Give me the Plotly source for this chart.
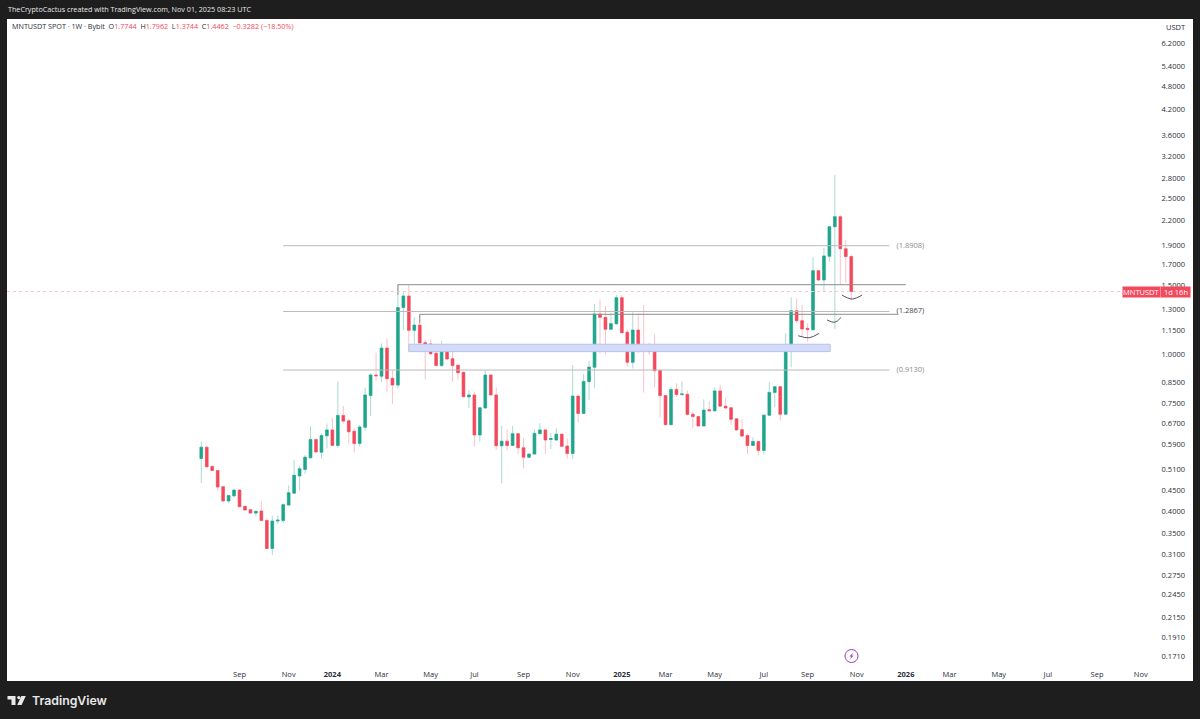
import pandas as pd
import plotly.graph_objects as go

# weekly MNTUSDT candles
weeks = pd.date_range("2023-07-17", periods=120, freq="7D")

opens = [.544,.581,.519,.507,.461,.424,.437,.452,.411,.403,.395,.400,.378,.321,.377,.378,.414,.444,.491,.510,
         .546,.608,.564,.621,.643,.587,.700,.678,.638,.594,.653,.786,.887,.881,1.039,.870,.836,1.316,1.409,1.152,
         1.188,1.072,1.064,1.007,.937,1.021,.976,.939,.901,.780,.789,.624,.731,.887,.789,.586,.602,.587,.629,.579,
         .548,.558,.629,.643,.608,.606,.627,.585,.560,.784,.708,.853,.928,1.268,1.243,1.159,1.198,1.395,1.139,.955,
         1.154,1.053,1.027,1.019,.911,.786,.663,.815,.791,.792,.705,.695,.658,.724,.719,.808,.739,.732,.686,.644,
         .622,.587,.601,.570,.701,.801,.828,.705,1.025,1.293,1.219,1.166,1.156,1.634,1.547,1.778,2.114,2.241,1.858,1.7744]
highs = [.600,.585,.524,.507,.461,.439,.456,.454,.411,.403,.400,.424,.383,.389,.390,.418,.465,.539,.520,.555,
         .658,.608,.630,.668,.690,.853,.740,.686,.649,.662,.824,.896,1.011,1.068,1.099,.913,1.508,1.445,1.503,1.243,
         1.260,1.089,1.093,1.017,1.082,1.051,1.057,.943,.903,.812,.805,.734,.913,.892,.825,.659,.645,.658,.630,.612,
         .560,.645,.669,.645,.632,.649,.630,.612,.940,.784,.892,.964,1.344,1.381,1.328,1.273,1.417,1.417,1.159,1.280,
         1.273,1.336,1.072,1.126,.913,.789,.828,.845,.853,.809,.715,.699,.769,.760,.825,.837,.773,.737,.688,.684,
         .630,.616,.604,.704,.850,.831,.828,1.132,1.398,1.390,1.336,1.200,1.770,1.640,1.866,2.122,2.866,2.260,1.955,1.7962]
lows = [.471,.518,.506,.450,.424,.418,.433,.410,.402,.394,.388,.378,.321,.309,.371,.373,.412,.443,.450,.497,
        .546,.564,.543,.577,.585,.579,.668,.594,.563,.583,.640,.697,.858,.852,.801,.748,.820,1.154,1.017,1.064,
        1.064,.864,.997,.935,.931,.968,.853,.861,.780,.731,.583,.600,.729,.787,.572,.470,.572,.585,.559,.513,
        .546,.556,.627,.559,.575,.604,.583,.544,.542,.671,.706,.766,.820,1.007,1.001,1.154,1.188,1.132,.931,.922,
        1.007,.800,.997,.825,.692,.660,.660,.781,.784,.701,.649,.655,.655,.718,.716,.737,.729,.662,.640,.618,
        .558,.585,.554,.556,.698,.734,.678,.703,.928,1.200,1.114,1.078,1.148,1.538,1.445,1.722,1.159,1.502,1.523,1.3744]
closes = [.581,.518,.507,.460,.424,.438,.452,.410,.402,.395,.399,.378,.321,.377,.379,.415,.445,.493,.512,.548,
          .608,.565,.622,.643,.587,.700,.677,.636,.594,.654,.789,.887,.883,1.039,.868,.836,1.316,1.409,1.152,1.188,
          1.070,1.064,1.005,.937,1.021,.974,.937,.899,.781,.789,.624,.732,.887,.789,.586,.602,.587,.629,.579,.548,
          .558,.630,.643,.606,.611,.627,.584,.560,.784,.708,.854,.929,1.268,1.243,1.159,1.198,1.395,1.136,.955,1.154,
          1.051,1.025,1.017,.909,.786,.663,.815,.791,.794,.704,.695,.658,.722,.719,.808,.739,.731,.684,.643,.620,
          .587,.601,.570,.701,.801,.828,.705,1.027,1.293,1.219,1.161,1.157,1.634,1.547,1.781,2.114,2.241,1.858,1.7744,1.4462]

price_ticks = [6.2,5.4,4.8,4.2,3.6,3.2,2.8,2.5,2.2,1.9,1.7,1.5,1.3,1.15,1.0,.85,.75,.67,.59,.51,.45,.40,.35,.31,.275,.245,.215,.191,.171]

date_ticks = ["2023-09-04","2023-11-06","2024-01-01","2024-03-04","2024-05-06","2024-07-01","2024-09-02","2024-11-04",
              "2025-01-06","2025-03-03","2025-05-05","2025-07-07","2025-09-01","2025-11-03","2026-01-05","2026-03-02",
              "2026-05-04","2026-07-06","2026-09-07","2026-11-02"]
date_labels = ["Sep","Nov","<b>2024</b>","Mar","May","Jul","Sep","Nov","<b>2025</b>","Mar","May","Jul","Sep","Nov",
               "<b>2026</b>","Mar","May","Jul","Sep","Nov"]

# drawings on the chart
fib_levels = [1.8908, 1.2867, 0.9130]
fib_start, fib_end = "2023-10-30", "2025-12-15"
top_level = 1.505
mid_level = 1.2655
zone_low, zone_high = 1.017, 1.062
zone_start, zone_end = "2024-04-08", "2025-09-30"
arc_dates = [["2025-08-20","2025-09-03","2025-09-16"],
             ["2025-09-26","2025-10-06","2025-10-14"],
             ["2025-10-15","2025-10-28","2025-11-10"]]
arc_prices = [[1.116,1.103,1.132],[1.224,1.208,1.243],[1.417,1.384,1.417]]

green = "#1fa58c"
red = "#f2495c"
pale_green = "#a9dcd2"
pale_red = "#f9c3ca"
ink = "#2a2e39"


def px(x):
    return (x - 7) / 1186


def py(y):
    return (681 - y) / 662


fig = go.Figure()

# zone box
fig.add_trace(go.Scatter(x=[zone_start, zone_end, zone_end, zone_start, zone_start],
                         y=[zone_low, zone_low, zone_high, zone_high, zone_low],
                         mode="lines", fill="toself", fillcolor="#d3dbfb",
                         line=dict(color="#b9c2ea", width=1)))

for lv in fib_levels:
    fig.add_trace(go.Scatter(x=[fib_start, fib_end], y=[lv, lv], mode="lines",
                             line=dict(color="#b9b9b9", width=1)))
    fig.add_trace(go.Scatter(x=["2025-12-24"], y=[lv], mode="text", text=["(%.4f)" % lv],
                             textposition="middle right",
                             textfont=dict(family="Open Sans", size=7.5,
                                           color="#444444" if lv == 1.2867 else "#8a8a8a")))

fig.add_trace(go.Scatter(x=["2024-03-25", "2024-03-25", "2026-01-05"], y=[1.42, top_level, top_level],
                         mode="lines", line=dict(color="#8c8c8c", width=1)))
fig.add_trace(go.Scatter(x=["2024-04-22", "2024-04-22", "2025-12-26"], y=[1.2, mid_level, mid_level],
                         mode="lines", line=dict(color="#8c8c8c", width=1)))

# last price line
fig.add_trace(go.Scatter(x=["2022-11-10", "2026-10-09"], y=[closes[-1], closes[-1]], mode="lines",
                         line=dict(color="#f6c9ce", width=1, dash="dot")))

# wicks, then the bodies on top
fig.add_trace(go.Candlestick(x=weeks, open=opens, high=highs, low=lows, close=closes,
                             increasing=dict(line=dict(color=pale_green, width=1), fillcolor=green),
                             decreasing=dict(line=dict(color=pale_red, width=1), fillcolor=red)))
body_top = [max(o, c) for o, c in zip(opens, closes)]
body_bot = [min(o, c) for o, c in zip(opens, closes)]
fig.add_trace(go.Candlestick(x=weeks, open=opens, high=body_top, low=body_bot, close=closes,
                             increasing=dict(line=dict(color=green, width=0.5), fillcolor=green),
                             decreasing=dict(line=dict(color=red, width=0.5), fillcolor=red)))

for d, p in zip(arc_dates, arc_prices):
    fig.add_trace(go.Scatter(x=d, y=p, mode="lines",
                             line=dict(color="#555555", width=1, shape="spline")))

notes = [
    dict(x=px(7), y=py(9), xanchor="left", yanchor="middle",
         text="TheCryptoCactus created with TradingView.com, Nov 01, 2025 08:23 UTC",
         font=dict(family="Open Sans", size=7.2, color="#e8e8e8")),
    dict(x=px(11), y=py(26), xanchor="left", yanchor="middle",
         text="MNTUSDT SPOT · 1W · Bybit  O<span style='color:#f2495c'>1.7744</span>  H<span style='color:#f2495c'>1.7962</span>"
              "  L<span style='color:#f2495c'>1.3744</span>  C<span style='color:#f2495c'>1.4462  −0.3282 (−18.50%)</span>",
         font=dict(family="Open Sans", size=7.2, color=ink)),
    dict(x=px(1187), y=py(27), xanchor="right", yanchor="middle", text="USDT",
         font=dict(family="Open Sans", size=7.5, color=ink)),
    dict(x=px(1141), y=py(292), xanchor="center", yanchor="middle", text="MNTUSDT",
         font=dict(family="Open Sans", size=7.5, color="white")),
    dict(x=px(1175.5), y=py(292), xanchor="center", yanchor="middle", text="1d 16h",
         font=dict(family="Open Sans", size=7.5, color="white")),
    dict(x=px(31), y=py(700), xanchor="left", yanchor="middle", text="TradingView",
         font=dict(family="Inter", size=12.3, color="#e9e9e9", weight=600)),
]
for n in notes:
    n.update(xref="paper", yref="paper", showarrow=False, borderpad=0)


def box(x0, y0, x1, y1, color):
    return dict(type="rect", xref="paper", yref="paper", x0=px(x0), x1=px(x1), y0=py(y0), y1=py(y1),
                fillcolor=color, line=dict(width=0))


def poly(points, color):
    path = "M " + " L ".join("%.5f,%.5f" % (px(a), py(b)) for a, b in points) + " Z"
    return dict(type="path", xref="paper", yref="paper", path=path, fillcolor=color, line=dict(width=0))


shapes = [
    # last price tag
    box(1122.5, 286.5, 1190.5, 297.5, red),
    box(1160.3, 286.5, 1161, 297.5, "#f9a3ad"),
    # TradingView logo
    poly([(7.5, 696), (15.5, 696), (15.5, 705), (11.5, 705), (11.5, 699.5), (7.5, 699.5)], "#e9e9e9"),
    dict(type="circle", xref="paper", yref="paper", x0=px(17.2), x1=px(20.4), y0=py(696), y1=py(699.2),
         fillcolor="#e9e9e9", line=dict(width=0)),
    poly([(21.3, 696), (25.8, 696), (21.6, 705), (17.2, 705)], "#e9e9e9"),
    # event marker under the last candles
    dict(type="circle", xref="paper", yref="paper", x0=px(845), x1=px(858), y0=py(649.5), y1=py(662.5),
         fillcolor="white", line=dict(color="#9c3fb5", width=1)),
    poly([(853.6, 652.2), (849.4, 656.6), (851.4, 656.6), (849.4, 659.8), (853.6, 655.4), (851.6, 655.4)], "#9c3fb5"),
]

fig.update_layout(
    width=1200, height=719,
    margin=dict(l=7, r=7, t=19, b=38),
    paper_bgcolor="#1e1e1e",
    plot_bgcolor="white",
    showlegend=False,
    annotations=notes,
    shapes=shapes,
    xaxis=dict(type="date", range=["2022-11-10", "2027-01-08"], rangeslider=dict(visible=False),
               tickmode="array", tickvals=date_ticks, ticktext=date_labels, ticklabelposition="inside",
               ticks="", showgrid=False, zeroline=False, showline=False, tickangle=0,
               tickfont=dict(family="Open Sans", size=7.5, color=ink)),
    yaxis=dict(type="log", range=[-0.8305, 0.8534], side="right", tickmode="array",
               tickvals=price_ticks, ticktext=["%.4f" % t for t in price_ticks],
               ticklabelposition="inside", ticks="", ticklabelstandoff=5,
               showgrid=False, zeroline=False, showline=False,
               tickfont=dict(family="Open Sans", size=7.5, color=ink)),
)

fig.write_html("out.html", config=dict(displayModeBar=False),
               post_script="document.body.style.margin='0';")
